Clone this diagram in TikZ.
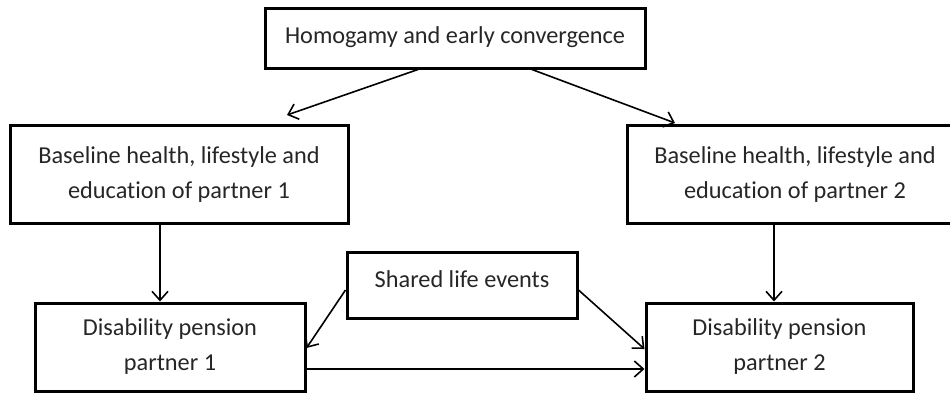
\documentclass[tikz,border=0pt]{standalone}
\usepackage{fontspec}
\setmainfont[Ligatures=NoCommon]{Carlito}
\usetikzlibrary{arrows.meta,calc}
\tikzset{
  box/.style={draw=black, line width=3pt, rectangle, align=center, inner sep=0pt,
    text=black!85, font=\fontsize{24.3}{35}\selectfont},
  conn/.style={line width=1.6pt, -{Straight Barb[length=9pt,width=16pt,line width=1.6pt]}}
}
\begin{document}
\begin{tikzpicture}[x=1pt,y=-1pt]
\useasboundingbox (0,0) rectangle (950,394);
\node[box, minimum width=380pt, minimum height=60pt] (top) at (455,38) {\raisebox{6pt}{Homogamy and early convergence}};
\node[box, minimum width=338pt, minimum height=98pt] (b1) at (179,174.5) {Baseline health, lifestyle and\\education of partner 1};
\node[box, minimum width=336pt, minimum height=98pt] (b2) at (795,174.5) {Baseline health, lifestyle and\\education of partner 2};
\node[box, minimum width=230pt, minimum height=66pt] (sh) at (462,285) {\raisebox{12pt}{Shared life events}};
\node[box, minimum width=270pt, minimum height=88pt] (d1) at (170,347) {Disability pension\\partner 1};
\node[box, minimum width=267pt, minimum height=88pt] (d2) at (779.5,347) {Disability pension\\partner 2};
\draw[conn] ([xshift=-37pt]top.south) -- ([xshift=108pt,yshift=9pt]b1.north);
\draw[conn] ([xshift=77pt]top.south) -- ([xshift=-120pt,yshift=1pt]b2.north);
\draw[conn] ([xshift=-19pt]b1.south) -- ([xshift=-19pt]b1.south |- d1.north);
\draw[conn] ([xshift=-21pt]b2.south) -- ([xshift=-21pt]b2.south |- d2.north);
\draw[conn] ([yshift=-5pt]sh.west) -- ([yshift=-1pt]d1.east);
\draw[conn] ([yshift=-5pt]sh.east) -- ([yshift=-2pt]d2.west);
\draw[conn] ([yshift=-22pt]d1.east) -- ([yshift=-22pt]d1.east -| d2.west);
\end{tikzpicture}
\end{document}
